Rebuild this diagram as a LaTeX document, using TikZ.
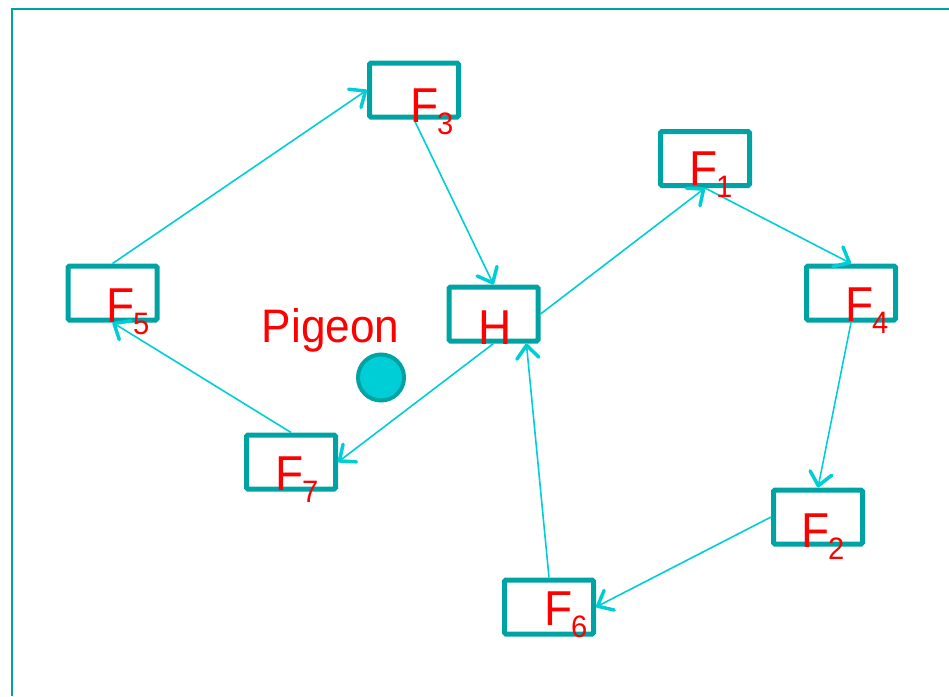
\documentclass[tikz,border=0pt]{standalone}
\usepackage{fontspec}
\setmainfont[FakeStretch=0.94]{Liberation Sans}
\usetikzlibrary{arrows.meta,calc}
\definecolor{boxc}{RGB}{0,163,163}
\definecolor{arrc}{RGB}{0,206,214}
\definecolor{txtc}{RGB}{255,0,0}
\newcommand\subdigit[1]{\kern-1.5pt\raisebox{-12pt}{\fontsize{31}{31}\selectfont #1}}
\begin{document}
\begin{tikzpicture}[x=1pt,y=-1pt,
  fbox/.style={draw=boxc,line width=5pt,rounded corners=1.5pt,minimum width=89pt,minimum height=54pt,inner sep=0pt},
  lab/.style={text=txtc,inner sep=0pt,anchor=base west,font=\fontsize{49}{49}\selectfont},
  conn/.style={draw=arrc,line width=1.6pt,-{Straight Barb[length=13pt,width=22pt,line width=3.5pt 0 1,round]}},
  bird/.style={circle,draw=boxc,fill=arrc,line width=4pt,minimum size=46pt,inner sep=0pt}]
\useasboundingbox (0,0) rectangle (949,696);
% frame
\draw[boxc,line width=2pt] (11.5,696) -- (11.5,9) -- (949,9);
% boxes
\node[fbox] (F3) at (414,90) {};
\node[fbox] (F1) at (705,158.5) {};
\node[fbox] (F5) at (112.5,293) {};
\node[fbox] (F4) at (851,293) {};
\node[fbox] (H) at (493.5,314) {};
\node[fbox] (F7) at (291,462) {};
\node[fbox] (F2) at (818,517) {};
\node[fbox] (F6) at (549,607) {};
% pigeon
\node[bird] (pig) at (381,377.5) {};
\coordinate (Hin) at ($(H.south)!0.7!(H.south east)$);
% connectors
\draw[conn] (F5.north) -- (F3.west);
\draw[conn] (F3.south) -- (H.north);
\draw[conn] (H.east) -- (F1.south);
\draw[conn] (F1.south) -- (F4.north);
\draw[conn] (F4.south) -- (F2.north);
\draw[conn] (F2.west) -- (F6.east);
\draw[conn] (F6.north) -- (Hin);
\draw[conn] (H.south) -- (F7.east);
\draw[conn] (F7.north) -- (F5.south);
% labels
\node[lab] (l3) at (410.2,122) {F\subdigit{3}};
\node[lab] (l1) at (689.2,185) {F\subdigit{1}};
\node[lab] (l5) at (106.2,322) {F\subdigit{5}};
\node[lab] (l4) at (845.2,321) {F\subdigit{4}};
\node[lab] (l7) at (275.2,490) {F\subdigit{7}};
\node[lab] (l6) at (544.2,625) {F\subdigit{6}};
\node[lab] (l2) at (801.2,547) {F\subdigit{2}};
\node[lab] (lH) at (478.2,344) {H};
\node[lab,font=\fontsize{47}{47}\selectfont] (lp) at (261.6,342) {Pigeon};
\end{tikzpicture}
\end{document}
